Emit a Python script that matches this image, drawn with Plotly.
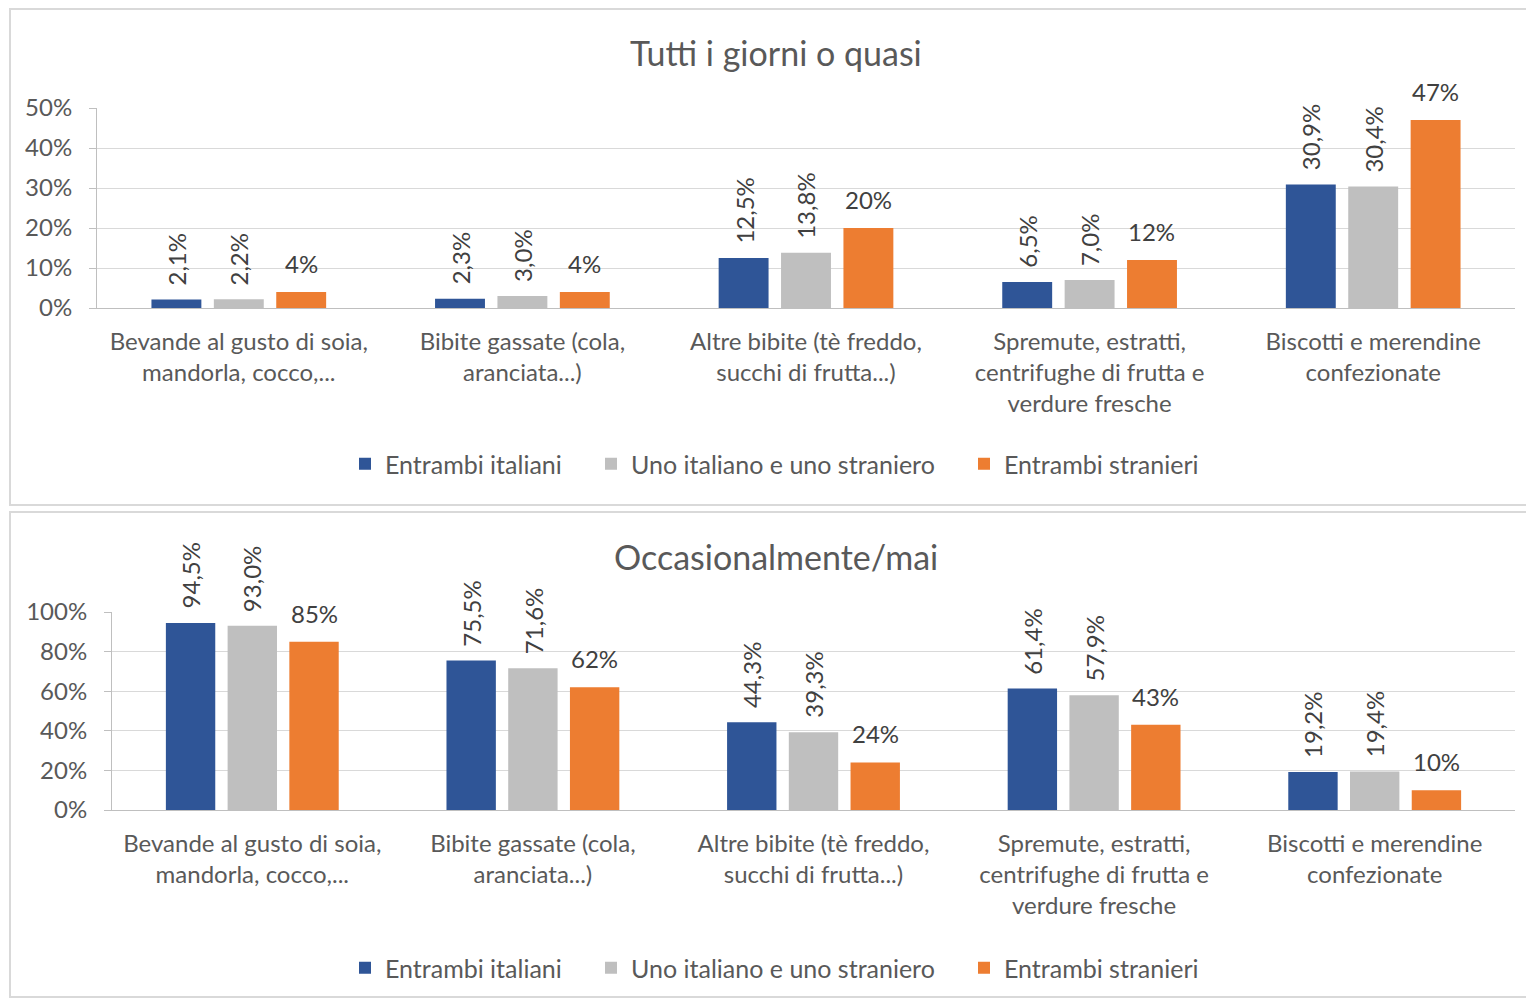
import plotly.graph_objects as go

# Categories shown on both panels
categories = [
    "Bevande al gusto di soia,<br>mandorla, cocco,...",
    "Bibite gassate (cola,<br>aranciata...)",
    "Altre bibite (tè freddo,<br>succhi di frutta...)",
    "Spremute, estratti,<br>centrifughe di frutta e<br>verdure fresche",
    "Biscotti e merendine<br>confezionate",
]
series_names = ["Entrambi italiani", "Uno italiano e uno straniero", "Entrambi stranieri"]

# "Tutti i giorni o quasi" (%)
daily_italiani = [2.1, 2.3, 12.5, 6.5, 30.9]
daily_misti = [2.2, 3.0, 13.8, 7.0, 30.4]
daily_stranieri = [4, 4, 20, 12, 47]

# "Occasionalmente/mai" (%)
occ_italiani = [94.5, 75.5, 44.3, 61.4, 19.2]
occ_misti = [93.0, 71.6, 39.3, 57.9, 19.4]
occ_stranieri = [85, 62, 24, 43, 10]

top_ticks = [0, 10, 20, 30, 40, 50]
bottom_ticks = [0, 20, 40, 60, 80, 100]

colors = ["#2F5597", "#BFBFBF", "#ED7D31"]
FONT = "Lato"
TXT = "#595959"
LBL = "#404040"
W, H = 1526, 1001
BARGAP, GROUPGAP = 0.34, 0.2

# left edge (px) of each legend entry's text, per series
legend_text_left = [385, 631, 1004]


def px_x(v):
    return v / W


def px_y(v):
    return (H - v) / H


def fmt(v, decimals):
    return f"{v:.{decimals}f}".replace(".", ",") + "%"


fig = go.Figure()

panels = [
    dict(values=[daily_italiani, daily_misti, daily_stranieri], xa="x", ya="y",
         left=97, right=1515, legend_y=464),
    dict(values=[occ_italiani, occ_misti, occ_stranieri], xa="x2", ya="y2",
         left=112, right=1515, legend_y=968),
]
legend_font = dict(family=FONT, size=25, color=TXT)
legend_layout = {}
n = 0
for p in panels:
    # width of one bar slot inside a category group, in pixels
    slot = (p["right"] - p["left"]) / len(categories) * (1 - BARGAP) / 3
    for i, (name, vals) in enumerate(zip(series_names, p["values"])):
        n += 1
        lg = "legend" if n == 1 else f"legend{n}"
        legend_layout[lg] = dict(
            orientation="h", x=px_x(legend_text_left[i] - 40), xanchor="left",
            y=px_y(p["legend_y"]), yanchor="middle",
            font=legend_font, bgcolor="rgba(0,0,0,0)",
        )
        fig.add_trace(go.Bar(
            x=categories, y=vals, name=name,
            xaxis=p["xa"], yaxis=p["ya"], legend=lg,
            marker=dict(color=colors[i], line=dict(width=0)),
            hoverinfo="skip",
        ))
        rotated = i < 2
        for cat, v in zip(categories, vals):
            fig.add_annotation(
                x=cat, y=v, xref=p["xa"], yref=p["ya"],
                text=fmt(v, 1 if rotated else 0),
                textangle=-90 if rotated else 0,
                xanchor="center", yanchor="bottom",
                xshift=(i - 1) * slot, yshift=12,
                showarrow=False,
                font=dict(family=FONT, size=24, color=LBL),
            )

axis_font = dict(family=FONT, size=24, color=TXT)
cat_font = dict(family=FONT, size=24, color=TXT)

common_x = dict(
    type="category", showline=True, linecolor="#BFBFBF", linewidth=1,
    showgrid=False, ticks="outside", ticklen=12, tickcolor="rgba(0,0,0,0)",
    tickfont=cat_font, automargin=False, fixedrange=True,
)
common_y = dict(
    showline=True, linecolor="#BFBFBF", linewidth=1,
    showgrid=True, gridcolor="#D9D9D9", gridwidth=1, zeroline=False,
    ticks="outside", ticklen=7, tickcolor="#BFBFBF", ticklabelstandoff=12,
    tickfont=axis_font, automargin=False, fixedrange=True,
)

fig.update_layout(
    width=W, height=H,
    margin=dict(l=0, r=0, t=0, b=0),
    paper_bgcolor="white", plot_bgcolor="white",
    barmode="group", bargap=BARGAP, bargroupgap=GROUPGAP,
    font=dict(family=FONT, color=TXT),
    xaxis=dict(common_x, domain=[px_x(97), px_x(1515)], anchor="y"),
    yaxis=dict(common_y, domain=[px_y(308), px_y(108)], range=[0, 50],
               tickvals=top_ticks, ticktext=[f"{t}%" for t in top_ticks], anchor="x"),
    xaxis2=dict(common_x, domain=[px_x(112), px_x(1515)], anchor="y2"),
    yaxis2=dict(common_y, domain=[px_y(810), px_y(612)], range=[0, 100],
                tickvals=bottom_ticks, ticktext=[f"{t}%" for t in bottom_ticks], anchor="x2"),
    showlegend=True,
    **legend_layout,
)

# Panel frames
for y0, y1 in [(505, 9), (997, 512)]:
    fig.add_shape(type="rect", xref="paper", yref="paper",
                  x0=px_x(10), x1=1.01, y0=px_y(y0), y1=px_y(y1),
                  line=dict(color="#D9D9D9", width=2), fillcolor="rgba(0,0,0,0)",
                  layer="below")

# Panel titles
for text, yc in [("Tutti i giorni o quasi", 53), ("Occasionalmente/mai", 557)]:
    fig.add_annotation(text=text, xref="paper", yref="paper",
                       x=px_x(776), y=px_y(yc), xanchor="center", yanchor="middle",
                       showarrow=False, font=dict(family=FONT, size=34, color=TXT))

fig.write_html("out.html")
